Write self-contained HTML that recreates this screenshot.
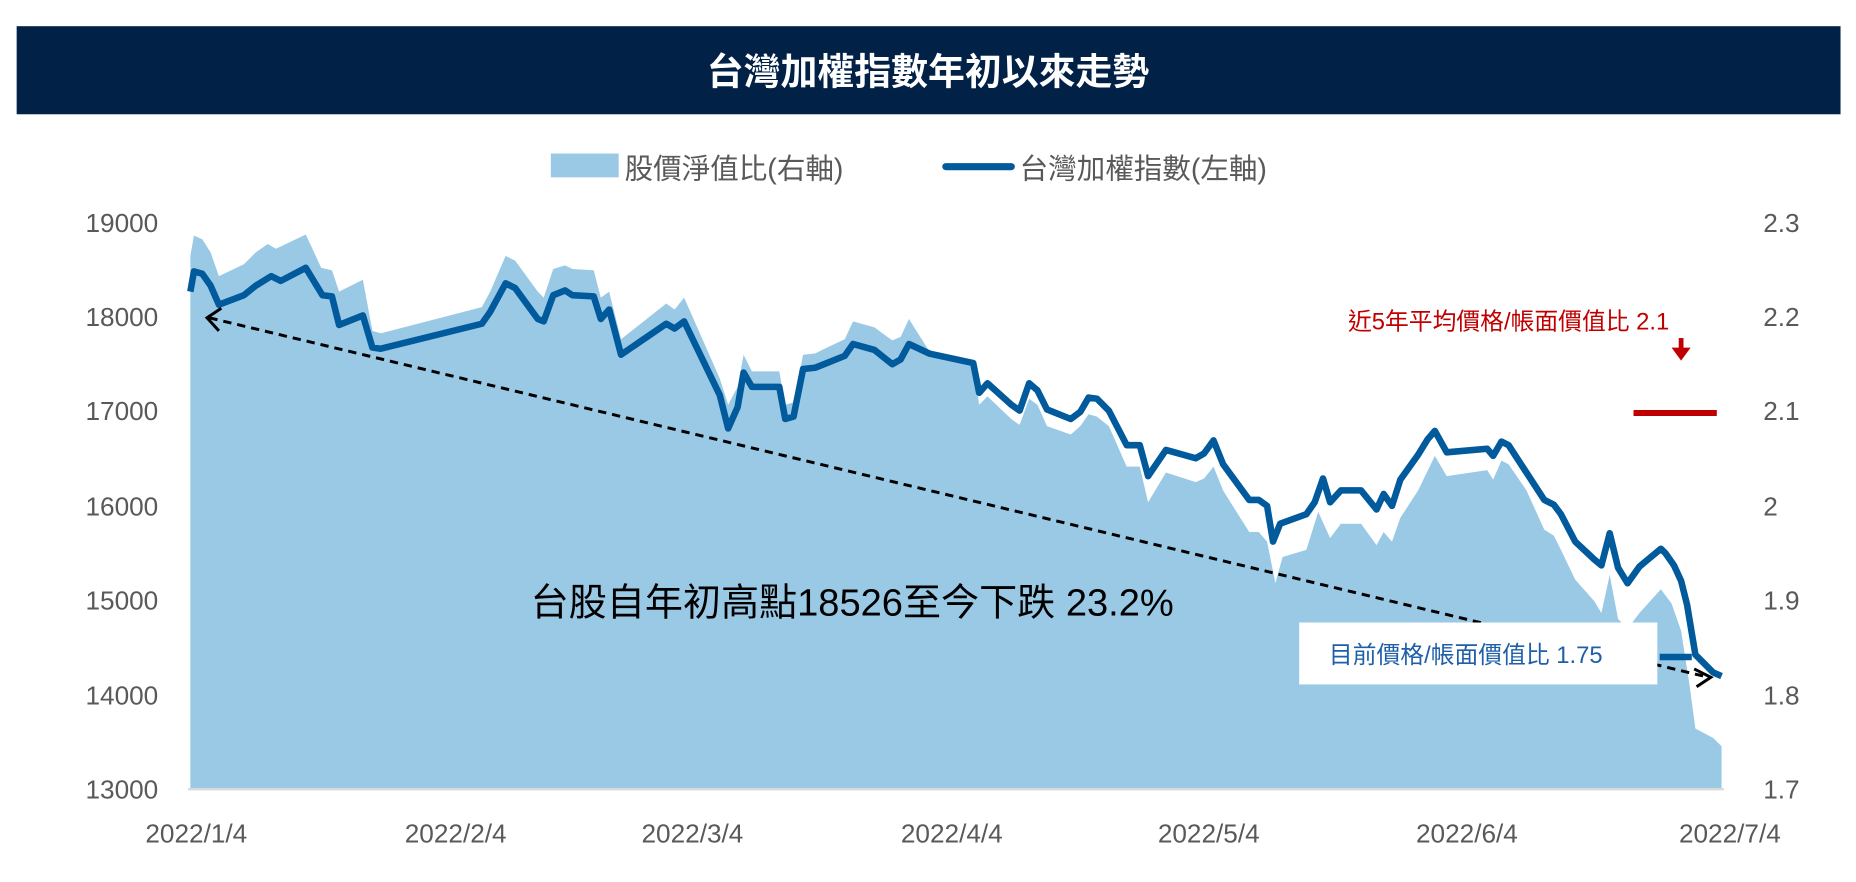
<!DOCTYPE html>
<html><head><meta charset="utf-8"><style>
html,body{margin:0;padding:0;background:#fff;width:1856px;height:882px;overflow:hidden}
svg{display:block}
text{font-family:"Liberation Sans","Noto Sans CJK TC",sans-serif}
</style></head><body>
<svg width="1856" height="882" viewBox="0 0 1560 741" preserveAspectRatio="none">
<rect x="14" y="22" width="1533" height="74" fill="#012147"/>
<text x="780" y="71" fill="#fff" font-size="31" font-weight="bold" text-anchor="middle">台灣加權指數年初以來走勢</text>
<rect x="463" y="129" width="57" height="20" fill="#9ac9e6"/>
<text x="525" y="150" fill="#595959" font-size="24">股價淨值比(右軸)</text>
<line x1="795" y1="140" x2="850" y2="140" stroke="#005a9c" stroke-width="6" stroke-linecap="round"/>
<text x="857" y="150" fill="#595959" font-size="24">台灣加權指數(左軸)</text>
<g fill="#595959" font-size="22" text-anchor="end">
<text x="133" y="195">19000</text><text x="133" y="274">18000</text><text x="133" y="353">17000</text>
<text x="133" y="433">16000</text><text x="133" y="512">15000</text><text x="133" y="592">14000</text><text x="133" y="671">13000</text>
</g>
<g fill="#595959" font-size="22">
<text x="1482" y="195">2.3</text><text x="1482" y="274">2.2</text><text x="1482" y="353">2.1</text>
<text x="1482" y="433">2</text><text x="1482" y="512">1.9</text><text x="1482" y="592">1.8</text><text x="1482" y="671">1.7</text>
</g>
<g fill="#595959" font-size="22" text-anchor="middle">
<text x="165" y="708">2022/1/4</text><text x="383" y="708">2022/2/4</text><text x="582" y="708">2022/3/4</text>
<text x="800" y="708">2022/4/4</text><text x="1016" y="708">2022/5/4</text><text x="1233" y="708">2022/6/4</text><text x="1454" y="708">2022/7/4</text>
</g>
<polygon fill="#9ac9e6" points="160,215 163,198 170,201 177,212 184,232 205,222 215,212 225,205 232,209 257,197 270,225 279,227 285,245 305,235 313,278 320,280 405,258 412,245 425,215 433,219 452,245 457,250 465,226 475,223 481,226 499,227 505,250 512,245 522,285 560,255 567,260 575,250 605,318 612,340 620,325 625,298 632,312 655,312 660,340 667,338 675,298 685,297 695,292 710,285 717,270 735,275 750,286 757,283 764,268 781,295 818,305 823,340 830,333 850,352 857,357 865,335 872,340 880,358 900,365 908,358 915,348 922,350 932,358 947,392 958,392 965,422 980,397 1005,405 1012,402 1020,392 1028,412 1050,447 1058,447 1065,455 1072,490 1078,468 1098,462 1108,430 1118,452 1127,440 1144,440 1157,458 1163,447 1170,455 1177,435 1192,412 1206,383 1216,400 1250,395 1255,403 1262,387 1268,390 1283,412 1298,445 1306,450 1312,462 1324,487 1340,505 1346,515 1353,483 1360,520 1368,528 1378,515 1396,495 1405,507 1413,530 1420,575 1425,612 1440,620 1447,627 1447,662 160,662"/>
<line x1="158" y1="663" x2="1449" y2="663" stroke="#d9d9d9" stroke-width="2"/>
<polyline fill="none" stroke="#005a9c" stroke-width="5.5" stroke-linejoin="round" points="160,245 163,228 170,230 177,240 184,256 205,248 215,240 228,232 236,236 257,225 271,248 279,249 285,273 305,265 313,292 320,293 405,272 412,262 425,238 433,242 452,268 457,270 465,248 475,244 481,248 499,249 505,268 512,260 522,298 560,272 567,276 575,270 605,332 612,360 620,342 625,313 632,325 655,325 660,352 667,350 675,310 685,309 695,305 710,299 717,289 735,294 750,306 757,302 764,289 781,297 818,305 823,330 830,322 850,340 857,345 865,322 872,328 880,344 900,352 908,346 915,334 922,335 932,345 947,374 958,374 965,400 980,378 1005,385 1012,381 1020,370 1028,390 1050,420 1058,420 1065,425 1070,455 1076,440 1098,432 1105,422 1112,402 1118,422 1127,412 1144,412 1157,428 1163,415 1170,425 1177,403 1192,382 1200,369 1206,362 1216,380 1250,377 1255,383 1262,371 1268,374 1283,397 1298,420 1306,424 1312,432 1324,455 1340,470 1346,475 1353,448 1360,477 1368,490 1378,476 1396,461 1400,465 1407,475 1413,488 1418,508 1425,550 1440,565 1447,568"/>
<line x1="176" y1="267" x2="1436" y2="569" stroke="#000" stroke-width="2.5" stroke-dasharray="7,5"/>
<polyline points="186,259 174,267 184,278" fill="none" stroke="#000" stroke-width="2.5"/>
<polyline points="1424,562 1438,569 1426,577" fill="none" stroke="#000" stroke-width="2.5"/>
<text x="446" y="517" fill="#000" font-size="32">台股自年初高點18526至今下跌 23.2%</text>
<rect x="1092" y="523" width="301" height="52" fill="#fff"/>
<text x="1117" y="557" fill="#1f5fa8" font-size="20">目前價格/帳面價值比 1.75</text>
<line x1="1395" y1="552" x2="1422" y2="552" stroke="#005a9c" stroke-width="5.5"/>
<text x="1133" y="277" fill="#c00000" font-size="20">近5年平均價格/帳面價值比 2.1</text>
<line x1="1413" y1="284" x2="1413" y2="294" stroke="#c00000" stroke-width="4"/>
<polygon points="1405,292 1421,292 1413,303" fill="#c00000"/>
<line x1="1373" y1="347" x2="1443" y2="347" stroke="#c00000" stroke-width="5"/>
</svg>
</body></html>
